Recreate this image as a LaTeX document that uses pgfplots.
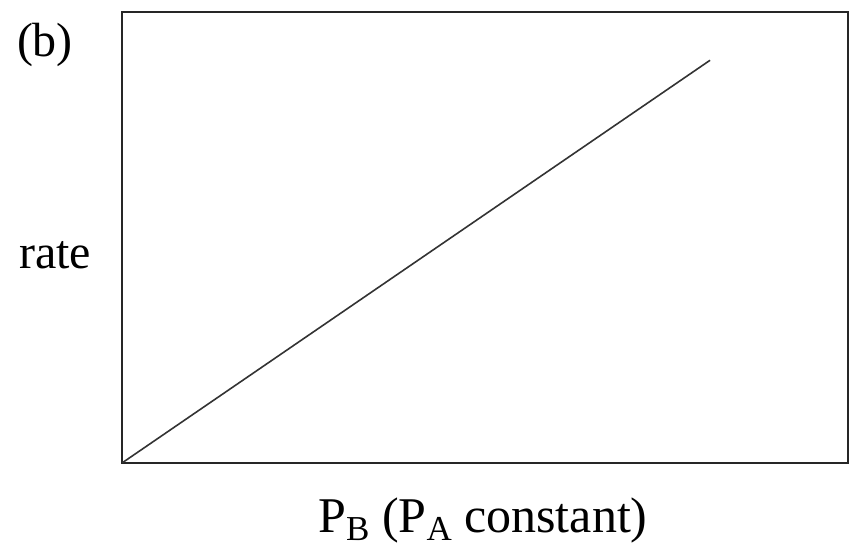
\documentclass[border=0pt]{standalone}
\usepackage{pgfplots}
\pgfplotsset{compat=1.18}
\usepackage{fontspec}
\setmainfont{Liberation Serif}
\begin{document}
\begin{tikzpicture}[x=1pt,y=1pt]
\useasboundingbox (0,0) rectangle (428.5,273);
\begin{axis}[
  at={(61pt,41.5pt)}, anchor=south west,
  width=363pt, height=225.5pt, scale only axis,
  xmin=0, xmax=1, ymin=0, ymax=1,
  xtick=\empty, ytick=\empty,
  axis line style={line width=1.1pt, black!85},
]
\addplot[black!80, line width=0.8pt] coordinates {(0,0) (0.81,0.893)};
\end{axis}
\node[font=\fontsize{24}{28}\selectfont] at (22.5,250.5) {(b)};
\node[font=\fontsize{24}{28}\selectfont] at (27.5,145.5) {rate};
\node[font=\fontsize{25}{29}\selectfont] at (241.5,13) {P\raisebox{-0.35ex}{\fontsize{17.5}{17.5}\selectfont B} (P\raisebox{-0.35ex}{\fontsize{17.5}{17.5}\selectfont A} constant)};
\end{tikzpicture}
\end{document}
